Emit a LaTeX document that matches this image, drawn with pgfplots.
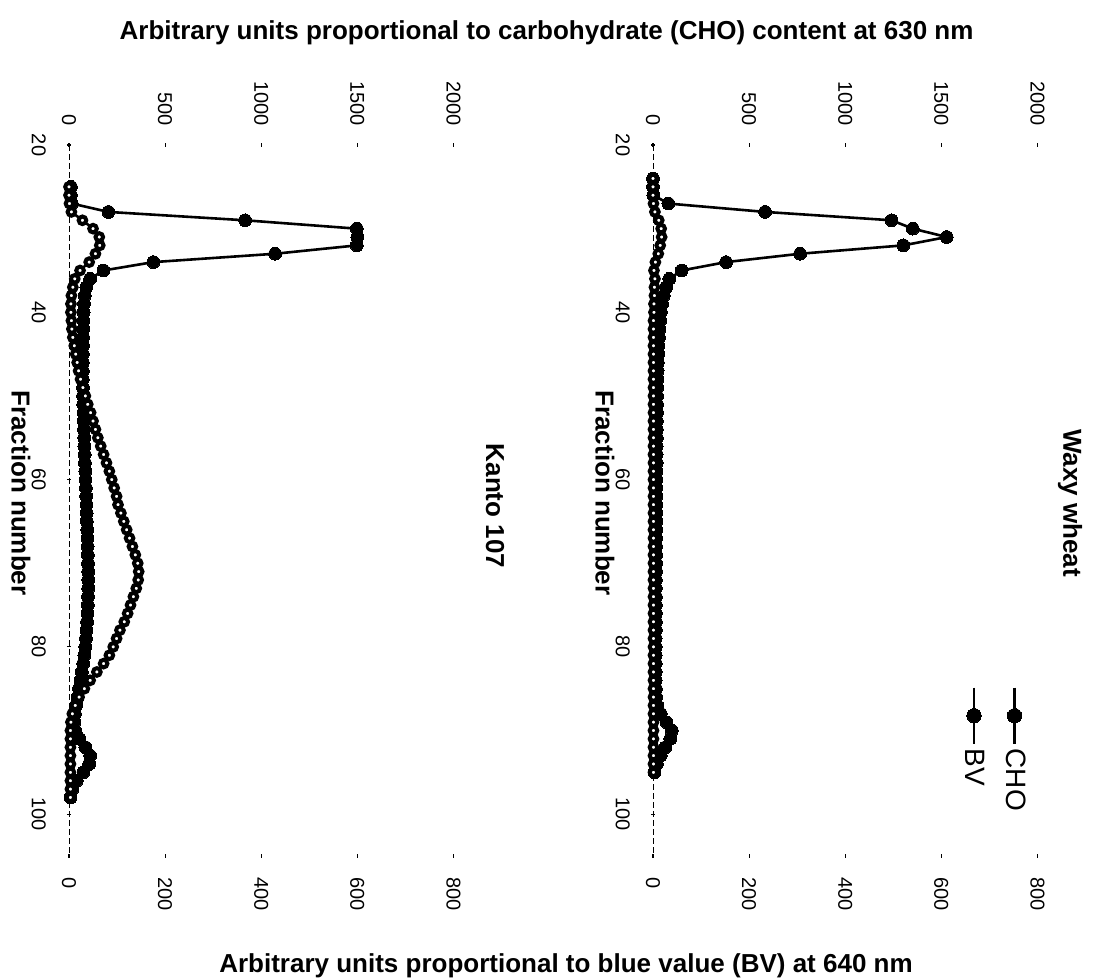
\documentclass[border=0pt]{standalone}
\usepackage{pgfplots}
\pgfplotsset{compat=1.18}
\usepackage{pgfplotstable}
\usepackage{fontspec}
\setmainfont{Liberation Sans}

\pgfplotstableread{
f v
25 10
26 10
27 15
28 205
29 916
30 1497
31 1500
32 1497
33 1072
34 439
35 179
36 110
37 90
38 82
39 78
40 76
41 75
42 74
43 73
44 73
45 72
46 72
47 72
48 72
49 73
50 73
51 74
52 75
53 76
54 78
55 79
56 80
57 82
58 83
59 85
60 86
61 88
62 89
63 91
64 92
65 93
66 95
67 96
68 97
69 98
70 99
71 100
72 100
73 100
74 99
75 98
76 96
77 94
78 91
79 88
80 85
81 80
82 74
83 67
84 60
85 52
86 45
87 37
88 31
89 28
90 32
91 55
92 85
93 110
94 105
95 75
96 40
97 18
98 8
}\kcho

\pgfplotstableread{
f v
25 0
26 0
27 1
28 5
29 28
30 50
31 63
32 64
33 55
34 42
35 23
36 12
37 8
38 5
39 4
40 4
41 5
42 6
43 8
44 11
45 14
46 17
47 20
48 24
49 29
50 34
51 39
52 45
53 50
54 55
55 60
56 66
57 72
58 78
59 84
60 89
61 94
62 99
63 102
64 108
65 114
66 120
67 126
68 132
69 138
70 143
71 145
72 144
73 140
74 134
75 128
76 122
77 115
78 106
79 99
80 92
81 84
82 72
83 58
84 44
85 32
86 21
87 13
88 7
89 4
90 3
91 3
92 3
93 3
94 3
95 3
96 3
97 3
98 3
}\kbv

\pgfplotstableread{
f v
24 0
25 0
26 2
27 80
28 583
29 1241
30 1351
31 1528
32 1302
33 765
34 380
35 149
36 85
37 68
38 56
39 47
40 41
41 37
42 34
43 31
44 29
45 27
46 25
47 24
48 23
49 22
50 21
51 21
52 21
53 20
54 20
55 20
56 19
57 19
58 19
59 18
60 18
61 18
62 18
63 17
64 17
65 17
66 17
67 16
68 16
69 16
70 16
71 16
72 15
73 15
74 15
75 15
76 15
77 15
78 15
79 14
80 14
81 14
82 14
83 14
84 14
85 15
86 16
87 22
88 40
89 70
90 98
91 90
92 65
93 40
94 20
95 8
}\wcho

\pgfplotstableread{
f v
24 0
25 0
26 0
27 1
28 4
29 12
30 17
31 18
32 15
33 11
34 5
35 2
36 4
37 3
38 3
39 2
40 2
41 1
42 1
43 1
44 1
45 1
46 1
47 1
48 1
49 1
50 1
51 1
52 1
53 1
54 1
55 1
56 1
57 1
58 1
59 1
60 1
61 1
62 1
63 1
64 1
65 1
66 1
67 1
68 1
69 1
70 1
71 1
72 1
73 1
74 1
75 1
76 1
77 1
78 1
79 1
80 1
81 1
82 1
83 1
84 1
85 1
86 1
87 1
88 1
89 1
90 1
91 1
92 1
93 1
94 1
95 1
}\wbv

\pgfplotsset{
  panel/.style={scale only axis, width=192.25pt, height=355.5pt,
    ymin=20, ymax=105, y dir=reverse, clip=false,
    anchor=north west,
    tick style={black, line width=0.6pt},
    major tick length=2pt, tick align=center,
    every axis plot/.append style={forget plot}},
  choaxis/.style={panel, xmin=0, xmax=2000,
    axis x line=top, axis y line=left,
    x axis line style={draw=none, -},
    y axis line style={-, black, line width=0.45pt, dash pattern=on 3pt off 1.5pt},
    xtick={0,500,1000,1500,2000}, xticklabels={0,500,1000,1500,2000},
    ytick={20,40,60,80,100}, yticklabels={20,40,60,80,100},
    xticklabel style={rotate=-90, anchor=east, font=\fontsize{10}{12}\selectfont},
    xticklabel shift=5pt,
    yticklabel style={rotate=-90, anchor=north, font=\fontsize{10}{12}\selectfont},
    yticklabel shift=7pt},
  bvaxis/.style={panel, xmin=0, xmax=800,
    axis x line=bottom, axis y line=none,
    x axis line style={draw=none, -},
    xtick={0,200,400,600,800}, xticklabels={0,200,400,600,800},
    xticklabel style={rotate=-90, anchor=west, font=\fontsize{10}{12}\selectfont},
    xticklabel shift=6pt},
  cho/.style={black, line width=1.3pt, mark=*, mark size=3.2pt,
    mark options={solid, fill=black, line width=0pt}},
  bv/.style={black, line width=1.3pt, mark=*, mark size=1.9pt,
    mark options={solid, fill=white, draw=black, line width=2.0pt}},
}

\begin{document}
\begin{tikzpicture}
\useasboundingbox (0pt,0pt) rectangle (549.5pt,-489pt);

% ---- Kanto 107 (left) ----
\begin{axis}[choaxis, at={(34.5pt,-72.5pt)}]
\addplot[cho] table[x=v, y=f] {\kcho};
\end{axis}
\begin{axis}[bvaxis, at={(34.5pt,-72.5pt)}]
\addplot[bv] table[x=v, y=f] {\kbv};
\end{axis}

% ---- Waxy wheat (right) ----
\begin{axis}[choaxis, at={(326.5pt,-72.5pt)}]
\addplot[cho] table[x=v, y=f] {\wcho};
\end{axis}
\begin{axis}[bvaxis, at={(326.5pt,-72.5pt)},
  legend columns=-1,
  legend style={at={(axis cs:668,84.7)}, anchor=north west,
    draw=none, fill=none, inner sep=0pt, outer sep=0pt,
    column sep=0pt, row sep=0pt, nodes={inner sep=0pt, outer sep=0pt}}]
\addplot[bv] table[x=v, y=f] {\wbv};
\addlegendimage{legend image code/.code={%
  \begin{scope}[overlay]
  \draw[black, line width=1.3pt, mark=*, mark size=3.6pt, mark repeat=2, mark phase=2,
    mark options={solid, fill=black, line width=0pt}]
    plot coordinates {(0pt,0pt) (0pt,-14pt) (0pt,-28pt)};
  \node[rotate=-90, anchor=west, inner sep=0pt, font=\fontsize{14}{16}\selectfont] at (0pt,-30.5pt) {BV};
  \end{scope}}}
\addlegendentry{}
\addlegendimage{legend image code/.code={%
  \begin{scope}[overlay]
  \draw[black, line width=1.3pt, mark=*, mark size=3.6pt, mark repeat=2, mark phase=2,
    mark options={solid, fill=black, line width=0pt}]
    plot coordinates {(19.25pt,0pt) (19.25pt,-14pt) (19.25pt,-28pt)};
  \node[rotate=-90, anchor=west, inner sep=0pt, font=\fontsize{14}{16}\selectfont] at (19.25pt,-30.5pt) {CHO};
  \end{scope}}}
\addlegendentry{}
\end{axis}

% ---- texts ----
\node[font=\bfseries\fontsize{13}{15}\selectfont] at (273.3pt,-16.5pt)
  {Arbitrary units proportional to carbohydrate (CHO) content at 630 nm};
\node[font=\bfseries\fontsize{13}{15}\selectfont] at (283pt,-483pt)
  {Arbitrary units proportional to blue value (BV) at 640 nm};
\node[rotate=-90, font=\bfseries\fontsize{13}{15}\selectfont] at (247.5pt,-253pt) {Kanto 107};
\node[rotate=-90, font=\bfseries\fontsize{13}{15}\selectfont] at (535pt,-251.5pt) {Waxy wheat};
\node[rotate=-90, font=\bfseries\fontsize{13}{15}\selectfont] at (10.5pt,-246.5pt) {Fraction number};
\node[rotate=-90, font=\bfseries\fontsize{13}{15}\selectfont] at (302.5pt,-246.5pt) {Fraction number};
\end{tikzpicture}
\end{document}
